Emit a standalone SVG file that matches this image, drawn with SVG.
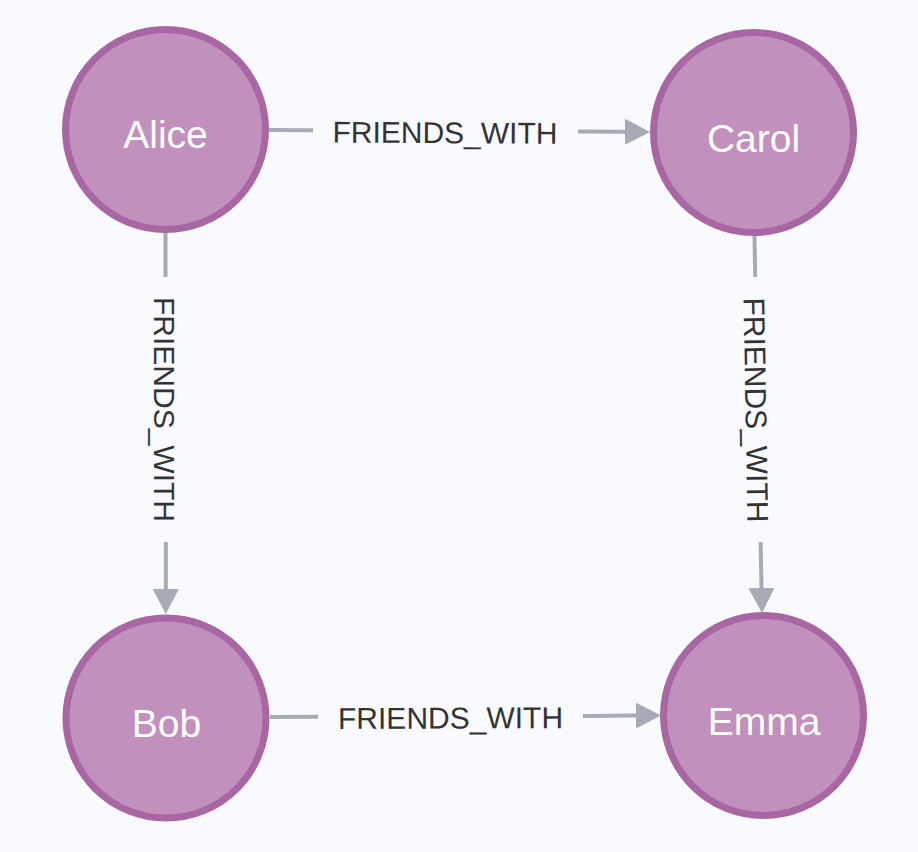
<svg xmlns="http://www.w3.org/2000/svg" width="918" height="852" viewBox="0 0 918 852">
  <style>
    .node circle { fill: #C190BD; stroke: #A866A2; stroke-width: 7; }
    .node text { fill: #FFFFFF; font-family: "Liberation Sans", Arial, sans-serif; font-size: 39px; text-anchor: middle; }
    .edge line { stroke: #A5AAB5; stroke-width: 4; fill: none; }
    .edge text { fill: #333333; font-family: "Liberation Sans", Arial, sans-serif; font-size: 30px; text-anchor: middle; }
  </style>
  <defs>
    <marker id="arrow" viewBox="0 0 25 26" refX="0" refY="13" markerWidth="25" markerHeight="26" markerUnits="userSpaceOnUse" orient="auto">
      <path d="M0,0 L25,13 L0,26 Z" fill="#A5AAB5"/>
    </marker>
  </defs>
  <rect x="0" y="0" width="918" height="852" fill="#F8FAFE"/>

  <g id="connectors">
    <g id="edge-alice-carol" class="edge">
      <line x1="269" y1="130" x2="313" y2="130.3"/>
      <text transform="translate(445,131.2) rotate(0.3)" x="0" y="12">FRIENDS_WITH</text>
      <line x1="578" y1="131.6" x2="625" y2="131.8" marker-end="url(#arrow)"/>
    </g>
    <g id="edge-alice-bob" class="edge">
      <line x1="165.5" y1="233" x2="165.5" y2="277"/>
      <text transform="translate(165.5,409.5) rotate(90)" x="0" y="12">FRIENDS_WITH</text>
      <line x1="165.8" y1="542" x2="165.8" y2="589" marker-end="url(#arrow)"/>
    </g>
    <g id="edge-carol-emma" class="edge">
      <line x1="754.5" y1="236" x2="755.2" y2="277"/>
      <text transform="translate(757.5,410) rotate(89)" x="0" y="12">FRIENDS_WITH</text>
      <line x1="760.6" y1="542" x2="761.5" y2="588" marker-end="url(#arrow)"/>
    </g>
    <g id="edge-bob-emma" class="edge">
      <line x1="270" y1="717" x2="318" y2="716.8"/>
      <text transform="translate(450.5,716.5) rotate(-0.2)" x="0" y="12">FRIENDS_WITH</text>
      <line x1="583" y1="715.9" x2="636" y2="715.6" marker-end="url(#arrow)"/>
    </g>
  </g>

  <g id="node-alice" class="node">
    <circle cx="165.5" cy="129.5" r="100"/>
    <text x="165.5" y="148">Alice</text>
  </g>
  <g id="node-carol" class="node">
    <circle cx="753.5" cy="132.5" r="100"/>
    <text x="753.5" y="152">Carol</text>
  </g>
  <g id="node-bob" class="node">
    <circle cx="166" cy="718" r="100"/>
    <text x="166.5" y="737">Bob</text>
  </g>
  <g id="node-emma" class="node">
    <circle cx="763.5" cy="715.5" r="100"/>
    <text x="764" y="735">Emma</text>
  </g>
</svg>
